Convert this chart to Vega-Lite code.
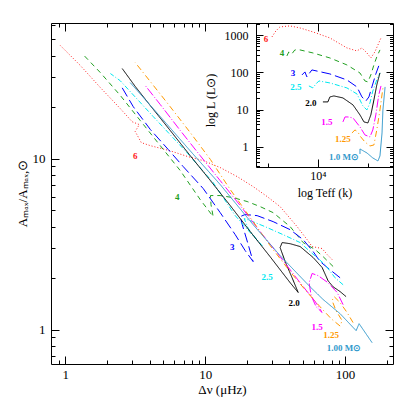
{
  "$schema": "https://vega.github.io/schema/vega-lite/v6.json",
  "width": 342,
  "height": 341,
  "autosize": {"type": "none"},
  "padding": {"left": 51, "top": 23, "right": 22, "bottom": 51},
  "background": "white",
  "config": {
    "view": {"stroke": "black", "strokeWidth": 1},
    "axis": {"grid": false, "labelFont": "Liberation Serif", "labelFontSize": 13, "titleFont": "Liberation Serif", "titleFontSize": 13, "titleFontWeight": "normal", "tickColor": "black", "domainColor": "black", "labelColor": "black", "titleColor": "black", "tickWidth": 1, "labelOverlap": false, "labelFlush": false, "labelBound": false}
  },
  "datasets": {
    "main": [
      {"m": "6", "i": 1, "dnu": 80.7, "a": 2.57}, {"m": "6", "i": 2, "dnu": 74.4, "a": 2.75}, {"m": "6", "i": 3, "dnu": 68.5, "a": 2.98}, {"m": "6", "i": 4, "dnu": 58.1, "a": 3.06}, {"m": "6", "i": 5, "dnu": 53.5, "a": 3.36}, {"m": "6", "i": 6, "dnu": 45.4, "a": 4.0}, {"m": "6", "i": 7, "dnu": 34.3, "a": 5.24}, {"m": "6", "i": 8, "dnu": 27.7, "a": 6.0}, {"m": "6", "i": 9, "dnu": 22.0, "a": 6.86}, {"m": "6", "i": 10, "dnu": 16.9, "a": 7.85}, {"m": "6", "i": 11, "dnu": 12.8, "a": 8.86}, {"m": "6", "i": 12, "dnu": 9.68, "a": 9.73}, {"m": "6", "i": 13, "dnu": 7.43, "a": 10.3}, {"m": "6", "i": 14, "dnu": 5.62, "a": 11.1}, {"m": "6", "i": 15, "dnu": 4.05, "a": 11.9}, {"m": "6", "i": 16, "dnu": 3.49, "a": 12.4}, {"m": "6", "i": 17, "dnu": 3.16, "a": 14.4}, {"m": "6", "i": 18, "dnu": 3.38, "a": 15.8}, {"m": "6", "i": 19, "dnu": 3.01, "a": 16.4}, {"m": "6", "i": 20, "dnu": 2.47, "a": 19.6}, {"m": "6", "i": 21, "dnu": 1.78, "a": 26.0}, {"m": "6", "i": 22, "dnu": 1.28, "a": 35.0}, {"m": "6", "i": 23, "dnu": 0.921, "a": 45.8},
      {"m": "4", "i": 1, "dnu": 82.1, "a": 2.34}, {"m": "4", "i": 2, "dnu": 69.7, "a": 2.67}, {"m": "4", "i": 3, "dnu": 61.1, "a": 2.94}, {"m": "4", "i": 4, "dnu": 50.1, "a": 3.23}, {"m": "4", "i": 5, "dnu": 40.5, "a": 4.0}, {"m": "4", "i": 6, "dnu": 30.6, "a": 4.83}, {"m": "4", "i": 7, "dnu": 24.7, "a": 5.24}, {"m": "4", "i": 8, "dnu": 19.95, "a": 5.61}, {"m": "4", "i": 9, "dnu": 15.85, "a": 5.91}, {"m": "4", "i": 10, "dnu": 12.8, "a": 6.08}, {"m": "4", "i": 11, "dnu": 10.9, "a": 6.08}, {"m": "4", "i": 12, "dnu": 11.0, "a": 5.38}, {"m": "4", "i": 13, "dnu": 11.4, "a": 4.58}, {"m": "4", "i": 14, "dnu": 9.21, "a": 5.76}, {"m": "4", "i": 15, "dnu": 6.63, "a": 8.51}, {"m": "4", "i": 16, "dnu": 4.77, "a": 11.9}, {"m": "4", "i": 17, "dnu": 3.43, "a": 16.7}, {"m": "4", "i": 18, "dnu": 2.47, "a": 23.4}, {"m": "4", "i": 19, "dnu": 1.78, "a": 31.8}, {"m": "4", "i": 20, "dnu": 1.32, "a": 41.1},
      {"m": "3", "i": 1, "dnu": 92.1, "a": 2.01}, {"m": "3", "i": 2, "dnu": 78.1, "a": 2.24}, {"m": "3", "i": 3, "dnu": 66.3, "a": 2.5}, {"m": "3", "i": 4, "dnu": 59.1, "a": 2.86}, {"m": "3", "i": 5, "dnu": 50.1, "a": 3.36}, {"m": "3", "i": 6, "dnu": 40.5, "a": 3.84}, {"m": "3", "i": 7, "dnu": 30.6, "a": 4.28}, {"m": "3", "i": 8, "dnu": 23.5, "a": 4.64}, {"m": "3", "i": 9, "dnu": 19.3, "a": 4.71}, {"m": "3", "i": 10, "dnu": 17.8, "a": 4.58}, {"m": "3", "i": 11, "dnu": 18.4, "a": 4.11}, {"m": "3", "i": 12, "dnu": 20.3, "a": 3.14}, {"m": "3", "i": 13, "dnu": 22.0, "a": 2.5}, {"m": "3", "i": 14, "dnu": 19.3, "a": 2.9}, {"m": "3", "i": 15, "dnu": 16.4, "a": 3.59}, {"m": "3", "i": 16, "dnu": 12.8, "a": 4.83}, {"m": "3", "i": 17, "dnu": 9.68, "a": 6.68}, {"m": "3", "i": 18, "dnu": 6.96, "a": 8.98}, {"m": "3", "i": 19, "dnu": 5.44, "a": 11.3}, {"m": "3", "i": 20, "dnu": 4.05, "a": 14.8}, {"m": "3", "i": 21, "dnu": 3.06, "a": 20.1}, {"m": "3", "i": 22, "dnu": 2.47, "a": 27.1},
      {"m": "2.5", "i": 1, "dnu": 96.8, "a": 1.83}, {"m": "2.5", "i": 2, "dnu": 84.8, "a": 2.01}, {"m": "2.5", "i": 3, "dnu": 71.9, "a": 2.4}, {"m": "2.5", "i": 4, "dnu": 56.2, "a": 2.86}, {"m": "2.5", "i": 5, "dnu": 47.7, "a": 3.23}, {"m": "2.5", "i": 6, "dnu": 36.1, "a": 3.59}, {"m": "2.5", "i": 7, "dnu": 26.8, "a": 4.0}, {"m": "2.5", "i": 8, "dnu": 21.0, "a": 4.34}, {"m": "2.5", "i": 9, "dnu": 19.0, "a": 4.46}, {"m": "2.5", "i": 10, "dnu": 20.3, "a": 3.9}, {"m": "2.5", "i": 11, "dnu": 22.8, "a": 3.45}, {"m": "2.5", "i": 12, "dnu": 25.5, "a": 3.1}, {"m": "2.5", "i": 13, "dnu": 21.0, "a": 3.69}, {"m": "2.5", "i": 14, "dnu": 16.4, "a": 4.64}, {"m": "2.5", "i": 15, "dnu": 11.4, "a": 7.24}, {"m": "2.5", "i": 16, "dnu": 7.43, "a": 10.8}, {"m": "2.5", "i": 17, "dnu": 4.25, "a": 17.6}, {"m": "2.5", "i": 18, "dnu": 2.47, "a": 28.5}, {"m": "2.5", "i": 19, "dnu": 2.1, "a": 31.4},
      {"m": "2.0", "i": 1, "dnu": 101.6, "a": 1.56}, {"m": "2.0", "i": 2, "dnu": 92.1, "a": 1.67}, {"m": "2.0", "i": 3, "dnu": 82.1, "a": 1.78}, {"m": "2.0", "i": 4, "dnu": 75.6, "a": 1.93}, {"m": "2.0", "i": 5, "dnu": 68.5, "a": 2.31}, {"m": "2.0", "i": 6, "dnu": 59.1, "a": 2.64}, {"m": "2.0", "i": 7, "dnu": 47.7, "a": 3.06}, {"m": "2.0", "i": 8, "dnu": 40.5, "a": 3.18}, {"m": "2.0", "i": 9, "dnu": 35.5, "a": 3.23}, {"m": "2.0", "i": 10, "dnu": 34.3, "a": 3.02}, {"m": "2.0", "i": 11, "dnu": 37.3, "a": 2.5}, {"m": "2.0", "i": 12, "dnu": 41.8, "a": 2.01}, {"m": "2.0", "i": 13, "dnu": 46.2, "a": 1.65}, {"m": "2.0", "i": 14, "dnu": 40.5, "a": 1.88}, {"m": "2.0", "i": 15, "dnu": 29.1, "a": 2.67}, {"m": "2.0", "i": 16, "dnu": 21.0, "a": 3.74}, {"m": "2.0", "i": 17, "dnu": 15.1, "a": 5.31}, {"m": "2.0", "i": 18, "dnu": 10.9, "a": 7.43}, {"m": "2.0", "i": 19, "dnu": 7.81, "a": 10.4}, {"m": "2.0", "i": 20, "dnu": 5.62, "a": 14.6}, {"m": "2.0", "i": 21, "dnu": 4.05, "a": 20.4}, {"m": "2.0", "i": 22, "dnu": 3.16, "a": 26.4}, {"m": "2.0", "i": 23, "dnu": 2.55, "a": 33.6},
      {"m": "1.5", "i": 1, "dnu": 96.8, "a": 1.4}, {"m": "1.5", "i": 2, "dnu": 87.7, "a": 1.65}, {"m": "1.5", "i": 3, "dnu": 75.6, "a": 1.88}, {"m": "1.5", "i": 4, "dnu": 64.1, "a": 2.07}, {"m": "1.5", "i": 5, "dnu": 58.1, "a": 2.13}, {"m": "1.5", "i": 6, "dnu": 55.3, "a": 1.88}, {"m": "1.5", "i": 7, "dnu": 57.2, "a": 1.58}, {"m": "1.5", "i": 8, "dnu": 62.1, "a": 1.36}, {"m": "1.5", "i": 9, "dnu": 68.5, "a": 1.26}, {"m": "1.5", "i": 10, "dnu": 61.1, "a": 1.46}, {"m": "1.5", "i": 11, "dnu": 47.7, "a": 1.88}, {"m": "1.5", "i": 12, "dnu": 34.3, "a": 2.67}, {"m": "1.5", "i": 13, "dnu": 24.7, "a": 3.74}, {"m": "1.5", "i": 14, "dnu": 17.8, "a": 5.31}, {"m": "1.5", "i": 15, "dnu": 12.8, "a": 7.43}, {"m": "1.5", "i": 16, "dnu": 9.21, "a": 10.4}, {"m": "1.5", "i": 17, "dnu": 6.63, "a": 14.6}, {"m": "1.5", "i": 18, "dnu": 4.77, "a": 20.7}, {"m": "1.5", "i": 19, "dnu": 3.73, "a": 26.7},
      {"m": "1.25", "i": 1, "dnu": 114, "a": 1.1}, {"m": "1.25", "i": 2, "dnu": 103.3, "a": 1.26}, {"m": "1.25", "i": 3, "dnu": 92.1, "a": 1.44}, {"m": "1.25", "i": 4, "dnu": 83.5, "a": 1.56}, {"m": "1.25", "i": 5, "dnu": 80.7, "a": 1.48}, {"m": "1.25", "i": 6, "dnu": 86.2, "a": 1.29}, {"m": "1.25", "i": 7, "dnu": 95.2, "a": 1.13}, {"m": "1.25", "i": 8, "dnu": 92.1, "a": 1.05}, {"m": "1.25", "i": 9, "dnu": 79.4, "a": 1.16}, {"m": "1.25", "i": 10, "dnu": 66.3, "a": 1.36}, {"m": "1.25", "i": 11, "dnu": 51.8, "a": 1.71}, {"m": "1.25", "i": 12, "dnu": 40.5, "a": 2.18}, {"m": "1.25", "i": 13, "dnu": 29.1, "a": 3.1}, {"m": "1.25", "i": 14, "dnu": 21.0, "a": 4.52}, {"m": "1.25", "i": 15, "dnu": 15.1, "a": 6.59}, {"m": "1.25", "i": 16, "dnu": 10.9, "a": 9.87}, {"m": "1.25", "i": 17, "dnu": 7.81, "a": 14.2}, {"m": "1.25", "i": 18, "dnu": 5.62, "a": 20.1}, {"m": "1.25", "i": 19, "dnu": 4.05, "a": 28.2}, {"m": "1.25", "i": 20, "dnu": 3.16, "a": 36.4},
      {"m": "1.00", "i": 1, "dnu": 156, "a": 0.839}, {"m": "1.00", "i": 2, "dnu": 125.9, "a": 1.084}, {"m": "1.00", "i": 3, "dnu": 119.9, "a": 0.987}, {"m": "1.00", "i": 4, "dnu": 92.1, "a": 1.24}, {"m": "1.00", "i": 5, "dnu": 69.7, "a": 1.5}, {"m": "1.00", "i": 6, "dnu": 56.2, "a": 1.78}, {"m": "1.00", "i": 7, "dnu": 34.3, "a": 2.71}, {"m": "1.00", "i": 8, "dnu": 22.0, "a": 4.11}, {"m": "1.00", "i": 9, "dnu": 12.8, "a": 7.05}, {"m": "1.00", "i": 10, "dnu": 7.81, "a": 11.1}, {"m": "1.00", "i": 11, "dnu": 4.77, "a": 17.6}, {"m": "1.00", "i": 12, "dnu": 2.91, "a": 27.8}
    ],
    "mainlab": [
      {"m": "6", "t": "6", "dnu": 3.16, "a": 10.3}, {"m": "4", "t": "4", "dnu": 6.31, "a": 6.0}, {"m": "3", "t": "3", "dnu": 15.6, "a": 3.06}, {"m": "2.5", "t": "2.5", "dnu": 27.7, "a": 2.04}, {"m": "2.0", "t": "2.0", "dnu": 43.2, "a": 1.44}, {"m": "1.5", "t": "1.5", "dnu": 63.1, "a": 1.04}, {"m": "1.25", "t": "1.25", "dnu": 79.4, "a": 0.935}, {"m": "1.00", "t": "1.00 M⊙", "dnu": 98.4, "a": 0.785}
    ],
    "inset": [
      {"m": "6", "i": 1, "teff": 18920, "l": 889}, {"m": "6", "i": 2, "teff": 17910, "l": 1288}, {"m": "6", "i": 3, "teff": 16940, "l": 1648}, {"m": "6", "i": 4, "teff": 14760, "l": 1754}, {"m": "6", "i": 5, "teff": 12830, "l": 1550}, {"m": "6", "i": 6, "teff": 10720, "l": 1211}, {"m": "6", "i": 7, "teff": 8470, "l": 836}, {"m": "6", "i": 8, "teff": 6690, "l": 451}, {"m": "6", "i": 9, "teff": 5820, "l": 375}, {"m": "6", "i": 10, "teff": 5430, "l": 451}, {"m": "6", "i": 11, "teff": 5070, "l": 331}, {"m": "6", "i": 12, "teff": 4800, "l": 243}, {"m": "6", "i": 13, "teff": 4540, "l": 352}, {"m": "6", "i": 14, "teff": 4350, "l": 543}, {"m": "6", "i": 15, "teff": 4170, "l": 836},
      {"m": "4", "i": 1, "teff": 15380, "l": 275}, {"m": "4", "i": 2, "teff": 14970, "l": 352}, {"m": "4", "i": 3, "teff": 14360, "l": 311}, {"m": "4", "i": 4, "teff": 13770, "l": 399}, {"m": "4", "i": 5, "teff": 12830, "l": 399}, {"m": "4", "i": 6, "teff": 10720, "l": 331}, {"m": "4", "i": 7, "teff": 8470, "l": 243}, {"m": "4", "i": 8, "teff": 6690, "l": 158}, {"m": "4", "i": 9, "teff": 5580, "l": 96}, {"m": "4", "i": 10, "teff": 5210, "l": 58.8}, {"m": "4", "i": 11, "teff": 5000, "l": 55.3}, {"m": "4", "i": 12, "teff": 4800, "l": 85.1}, {"m": "4", "i": 13, "teff": 4600, "l": 158}, {"m": "4", "i": 14, "teff": 4420, "l": 259}, {"m": "4", "i": 15, "teff": 4230, "l": 399},
      {"m": "3", "i": 1, "teff": 12480, "l": 85.1}, {"m": "3", "i": 2, "teff": 11970, "l": 102.5}, {"m": "3", "i": 3, "teff": 11650, "l": 75.3}, {"m": "3", "i": 4, "teff": 11330, "l": 90.6}, {"m": "3", "i": 5, "teff": 10870, "l": 116}, {"m": "3", "i": 6, "teff": 8470, "l": 90.6}, {"m": "3", "i": 7, "teff": 6690, "l": 62.5}, {"m": "3", "i": 8, "teff": 5820, "l": 40.6}, {"m": "3", "i": 9, "teff": 5430, "l": 21.9}, {"m": "3", "i": 10, "teff": 5140, "l": 17.1}, {"m": "3", "i": 11, "teff": 4930, "l": 21.9}, {"m": "3", "i": 12, "teff": 4730, "l": 40.6}, {"m": "3", "i": 13, "teff": 4480, "l": 90.6}, {"m": "3", "i": 14, "teff": 4300, "l": 149},
      {"m": "2.5", "i": 1, "teff": 11330, "l": 43.2}, {"m": "2.5", "i": 2, "teff": 10720, "l": 38.2}, {"m": "2.5", "i": 3, "teff": 10280, "l": 48.9}, {"m": "2.5", "i": 4, "teff": 9860, "l": 58.8}, {"m": "2.5", "i": 5, "teff": 8470, "l": 52.0}, {"m": "2.5", "i": 6, "teff": 6690, "l": 38.2}, {"m": "2.5", "i": 7, "teff": 5820, "l": 26.4}, {"m": "2.5", "i": 8, "teff": 5360, "l": 12.6}, {"m": "2.5", "i": 9, "teff": 5070, "l": 9.82}, {"m": "2.5", "i": 10, "teff": 4860, "l": 15.1}, {"m": "2.5", "i": 11, "teff": 4670, "l": 31.7}, {"m": "2.5", "i": 12, "teff": 4420, "l": 62.5}, {"m": "2.5", "i": 13, "teff": 4230, "l": 96.4},
      {"m": "2.0", "i": 1, "teff": 9330, "l": 16.1}, {"m": "2.0", "i": 2, "teff": 8710, "l": 16.1}, {"m": "2.0", "i": 3, "teff": 8470, "l": 21.9}, {"m": "2.0", "i": 4, "teff": 8010, "l": 23.3}, {"m": "2.0", "i": 5, "teff": 7070, "l": 20.6}, {"m": "2.0", "i": 6, "teff": 6150, "l": 13.4}, {"m": "2.0", "i": 7, "teff": 5580, "l": 7.21}, {"m": "2.0", "i": 8, "teff": 5280, "l": 4.68}, {"m": "2.0", "i": 9, "teff": 5000, "l": 4.4}, {"m": "2.0", "i": 10, "teff": 4800, "l": 7.21}, {"m": "2.0", "i": 11, "teff": 4600, "l": 18.2}, {"m": "2.0", "i": 12, "teff": 4420, "l": 45.9}, {"m": "2.0", "i": 13, "teff": 4230, "l": 96.4},
      {"m": "1.5", "i": 1, "teff": 7070, "l": 4.68}, {"m": "1.5", "i": 2, "teff": 6870, "l": 6.37}, {"m": "1.5", "i": 3, "teff": 6590, "l": 6.37}, {"m": "1.5", "i": 4, "teff": 6150, "l": 5.99}, {"m": "1.5", "i": 5, "teff": 5580, "l": 3.44}, {"m": "1.5", "i": 6, "teff": 5210, "l": 2.1}, {"m": "1.5", "i": 7, "teff": 4860, "l": 1.85}, {"m": "1.5", "i": 8, "teff": 4670, "l": 2.86}, {"m": "1.5", "i": 9, "teff": 4480, "l": 7.21}, {"m": "1.5", "i": 10, "teff": 4300, "l": 24.8}, {"m": "1.5", "i": 11, "teff": 4170, "l": 43.2},
      {"m": "1.25", "i": 1, "teff": 6240, "l": 2.37}, {"m": "1.25", "i": 2, "teff": 5980, "l": 2.86}, {"m": "1.25", "i": 3, "teff": 5740, "l": 2.52}, {"m": "1.25", "i": 4, "teff": 5580, "l": 1.97}, {"m": "1.25", "i": 5, "teff": 5210, "l": 1.36}, {"m": "1.25", "i": 6, "teff": 4860, "l": 1.06}, {"m": "1.25", "i": 7, "teff": 4600, "l": 1.13}, {"m": "1.25", "i": 8, "teff": 4420, "l": 2.86}, {"m": "1.25", "i": 9, "teff": 4230, "l": 9.82}, {"m": "1.25", "i": 10, "teff": 4060, "l": 38.2},
      {"m": "1.00", "i": 1, "teff": 5580, "l": 0.649}, {"m": "1.00", "i": 2, "teff": 5580, "l": 0.884}, {"m": "1.00", "i": 3, "teff": 5070, "l": 0.691}, {"m": "1.00", "i": 4, "teff": 4670, "l": 0.507}, {"m": "1.00", "i": 5, "teff": 4350, "l": 0.421}, {"m": "1.00", "i": 6, "teff": 4230, "l": 0.574}, {"m": "1.00", "i": 7, "teff": 4110, "l": 2.37}, {"m": "1.00", "i": 8, "teff": 4060, "l": 9.82}, {"m": "1.00", "i": 9, "teff": 3940, "l": 40.6}
    ],
    "insetlab": [
      {"m": "6", "t": "6", "teff": 20560, "l": 786}, {"m": "4", "t": "4", "teff": 16480, "l": 331}, {"m": "3", "t": "3", "teff": 14150, "l": 96.4}, {"m": "2.5", "t": "2.5", "teff": 13590, "l": 40.6}, {"m": "2.0", "t": "2.0", "teff": 11020, "l": 15.1}, {"m": "1.5", "t": "1.5", "teff": 8830, "l": 4.68}, {"m": "1.25", "t": "1.25", "teff": 7070, "l": 1.64}, {"m": "1.00", "t": "1.0 M⊙", "teff": 6970, "l": 0.54}
    ]
  },
  "layer": [
    {
      "data": {"name": "main"},
      "mark": {"type": "line", "strokeWidth": 1, "clip": true},
      "encoding": {
        "x": {"field": "dnu", "type": "quantitative", "scale": {"type": "log", "domain": [0.79, 220], "nice": false},
          "axis": {"orient": "bottom", "domain": false, "values": [0.9, 1, 2, 3, 4, 5, 6, 7, 8, 9, 10, 20, 30, 40, 50, 60, 70, 80, 90, 100, 200],
            "tickSize": {"condition": {"test": "datum.value==1||datum.value==10||datum.value==100", "value": -8}, "value": -4},
            "labelPadding": 12, "labelExpr": "datum.value==1?'1':datum.value==10?'10':datum.value==100?'100':''",
            "title": "Δν  (μHz)", "titleY": 25, "titleBaseline": "middle"}},
        "y": {"field": "a", "type": "quantitative", "scale": {"type": "log", "domain": [0.63, 62], "nice": false},
          "axis": {"orient": "left", "domain": false, "values": [0.7, 0.8, 0.9, 1, 2, 3, 4, 5, 6, 7, 8, 9, 10, 20, 30, 40, 50, 60],
            "tickSize": {"condition": {"test": "datum.value==1||datum.value==10", "value": -8}, "value": -4},
            "labelPadding": 14, "labelExpr": "datum.value==1?'1':datum.value==10?'10':''",
            "title": "Aₘₐₓ/Aₘₐₓ,⊙", "titleX": -29, "titleY": 170, "titleBaseline": "middle"}},
        "color": {"field": "m", "type": "nominal", "legend": null, "scale": {"domain": ["6", "4", "3", "2.5", "2.0", "1.5", "1.25", "1.00"], "range": ["#ff2020", "#22a022", "#0000ff", "#00e8f0", "#000000", "#ff00ff", "#ff9900", "#3399cc"]}},
        "strokeDash": {"field": "m", "type": "nominal", "legend": null, "scale": {"domain": ["6", "4", "3", "2.5", "2.0", "1.5", "1.25", "1.00"], "range": [[1, 2], [5, 4], [10, 4], [5, 2, 1, 2], [1, 0], [9, 2, 1, 2], [6, 3, 1, 3], [1, 0]]}},
        "order": {"field": "i", "type": "quantitative"}
      }
    },
    {
      "data": {"name": "mainlab"},
      "mark": {"type": "text", "font": "Liberation Serif", "fontSize": 9, "fontWeight": "bold", "align": "center", "baseline": "middle"},
      "encoding": {
        "x": {"field": "dnu", "type": "quantitative", "scale": {"type": "log", "domain": [0.79, 220], "nice": false},
          "axis": {"orient": "top", "domain": false, "labels": false, "title": null, "values": [0.9, 1, 2, 3, 4, 5, 6, 7, 8, 9, 10, 20],
            "tickSize": {"condition": {"test": "datum.value==1||datum.value==10", "value": -8}, "value": -4}}},
        "y": {"field": "a", "type": "quantitative", "scale": {"type": "log", "domain": [0.63, 62], "nice": false},
          "axis": {"orient": "right", "domain": false, "labels": false, "title": null, "values": [0.7, 0.8, 0.9, 1, 2, 3, 4, 5, 6, 7, 8],
            "tickSize": {"condition": {"test": "datum.value==1", "value": -8}, "value": -4}}},
        "text": {"field": "t", "type": "nominal"},
        "color": {"field": "m", "type": "nominal", "legend": null, "scale": {"domain": ["6", "4", "3", "2.5", "2.0", "1.5", "1.25", "1.00"], "range": ["#ff2020", "#22a022", "#0000ff", "#00e8f0", "#000000", "#ff00ff", "#ff9900", "#3399cc"]}}
      }
    },
    {
      "data": {"name": "inset"},
      "mark": {"type": "line", "strokeWidth": 1},
      "encoding": {
        "x": {"field": "teff", "type": "quantitative", "scale": {"type": "log", "domain": [23600, 3530], "range": [205, 342], "nice": false},
          "axis": {"orient": "bottom", "offset": -197, "domain": true, "values": [20000, 10000, 5000],
            "tickSize": {"condition": {"test": "datum.value==10000", "value": -8}, "value": -4},
            "labelPadding": 11, "labelFontSize": 12, "labelExpr": "datum.value==10000?'10⁴':''",
            "title": "log Teff  (k)", "titleFontSize": 12, "titleY": 25, "titleBaseline": "middle"}},
        "y": {"field": "l", "type": "quantitative", "scale": {"type": "log", "domain": [0.29, 2100], "range": [144, 0], "nice": false},
          "axis": {"orient": "left", "offset": -205, "domain": true, "values": [0.3, 0.4, 0.5, 0.6, 0.7, 0.8, 0.9, 1, 2, 3, 4, 5, 6, 7, 8, 9, 10, 20, 30, 40, 50, 60, 70, 80, 90, 100, 200, 300, 400, 500, 600, 700, 800, 900, 1000, 2000],
            "tickSize": {"condition": {"test": "datum.value==1||datum.value==10||datum.value==100||datum.value==1000", "value": -7}, "value": -3.5},
            "labelPadding": 15, "labelFontSize": 12, "labelExpr": "datum.value==1?'1':datum.value==10?'10':datum.value==100?'100':datum.value==1000?'1000':''",
            "title": "log L  (L⊙)", "titleFontSize": 12, "titleX": -46, "titleY": 77, "titleBaseline": "middle"}},
        "color": {"field": "m", "type": "nominal", "legend": null, "scale": {"domain": ["6", "4", "3", "2.5", "2.0", "1.5", "1.25", "1.00"], "range": ["#ff2020", "#22a022", "#0000ff", "#00e8f0", "#000000", "#ff00ff", "#ff9900", "#3399cc"]}},
        "strokeDash": {"field": "m", "type": "nominal", "legend": null, "scale": {"domain": ["6", "4", "3", "2.5", "2.0", "1.5", "1.25", "1.00"], "range": [[1, 2], [5, 4], [10, 4], [5, 2, 1, 2], [1, 0], [9, 2, 1, 2], [6, 3, 1, 3], [1, 0]]}},
        "order": {"field": "i", "type": "quantitative"}
      }
    },
    {
      "data": {"name": "insetlab"},
      "mark": {"type": "text", "font": "Liberation Serif", "fontSize": 9, "fontWeight": "bold", "align": "center", "baseline": "middle"},
      "encoding": {
        "x": {"field": "teff", "type": "quantitative", "scale": {"type": "log", "domain": [23600, 3530], "range": [205, 342], "nice": false},
          "axis": {"orient": "top", "domain": false, "labels": false, "title": null, "values": [20000, 10000, 5000],
            "tickSize": {"condition": {"test": "datum.value==10000", "value": -8}, "value": -4}}},
        "y": {"field": "l", "type": "quantitative", "scale": {"type": "log", "domain": [0.29, 2100], "range": [144, 0], "nice": false},
          "axis": {"orient": "right", "domain": false, "labels": false, "title": null, "values": [0.3, 0.4, 0.5, 0.6, 0.7, 0.8, 0.9, 1, 2, 3, 4, 5, 6, 7, 8, 9, 10, 20, 30, 40, 50, 60, 70, 80, 90, 100, 200, 300, 400, 500, 600, 700, 800, 900, 1000, 2000],
            "tickSize": {"condition": {"test": "datum.value==1||datum.value==10||datum.value==100||datum.value==1000", "value": -7}, "value": -3.5}}},
        "text": {"field": "t", "type": "nominal"},
        "color": {"field": "m", "type": "nominal", "legend": null, "scale": {"domain": ["6", "4", "3", "2.5", "2.0", "1.5", "1.25", "1.00"], "range": ["#ff2020", "#22a022", "#0000ff", "#00e8f0", "#000000", "#ff00ff", "#ff9900", "#3399cc"]}}
      }
    }
  ],
  "resolve": {
    "scale": {"x": "independent", "y": "independent", "color": "independent", "strokeDash": "independent"},
    "axis": {"x": "independent", "y": "independent"}
  }
}
